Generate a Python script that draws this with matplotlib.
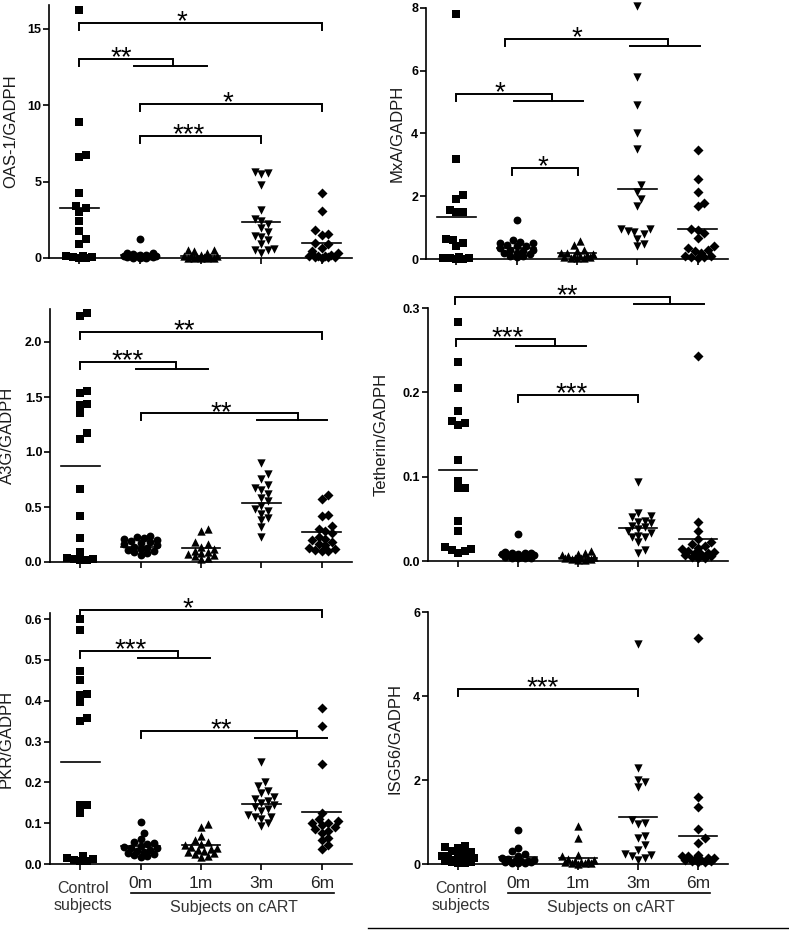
import matplotlib.pyplot as plt
import matplotlib.transforms as mtransforms
from matplotlib.lines import Line2D
import numpy as np

plt.rcParams['font.family'] = ['Liberation Sans', 'DejaVu Sans']

W, H = 789, 930

groups = ['Control\nsubjects', '0m', '1m', '3m', '6m']
cart_label = 'Subjects on cART'
markers = ['s', 'o', '^', 'v', 'D']
marker_sizes = [28, 32, 36, 36, 26]

# values, one list per group (control, 0m, 1m, 3m, 6m)
oas1 = [
    [16.2, 8.9, 6.75, 6.6, 4.25, 3.4, 3.3, 3.0, 2.4, 1.75, 1.25, 0.9, 0.15, 0.1, 0.05, 0.05, 0.02, 0.02],
    [1.25, 0.35, 0.3, 0.25, 0.2, 0.2, 0.15, 0.15, 0.1, 0.1, 0.1, 0.05, 0.05, 0.05, 0.02, 0.02, 0.02],
    [0.55, 0.5, 0.45, 0.3, 0.2, 0.15, 0.1, 0.1, 0.05, 0.05, 0.05, 0.02, 0.02, 0.02, 0.01, 0.01],
    [5.6, 5.55, 5.5, 4.8, 3.15, 2.55, 2.45, 2.2, 1.95, 1.7, 1.45, 1.4, 1.2, 0.9, 0.6, 0.55, 0.55, 0.3],
    [4.25, 3.05, 1.85, 1.6, 1.5, 1.0, 0.9, 0.65, 0.45, 0.3, 0.2, 0.15, 0.1, 0.1, 0.05, 0.05, 0.05, 0.02],
]
oas1_means = [3.3, 0.2, 0.12, 2.35, 0.98]

mxa = [
    [7.8, 3.2, 2.05, 1.9, 1.55, 1.5, 1.5, 0.65, 0.6, 0.5, 0.4, 0.05, 0.03, 0.02, 0.02, 0.01, 0.01],
    [1.23, 0.6, 0.55, 0.5, 0.5, 0.45, 0.4, 0.4, 0.35, 0.3, 0.3, 0.25, 0.2, 0.2, 0.15, 0.1, 0.1, 0.05],
    [0.56, 0.45, 0.3, 0.25, 0.2, 0.2, 0.15, 0.12, 0.1, 0.08, 0.06, 0.05, 0.04, 0.03, 0.02],
    [8.05, 5.8, 4.9, 4.0, 3.5, 2.35, 2.15, 1.9, 1.7, 0.95, 0.95, 0.9, 0.85, 0.8, 0.65, 0.47, 0.42],
    [3.48, 2.56, 2.15, 1.78, 1.68, 0.95, 0.93, 0.83, 0.67, 0.4, 0.35, 0.3, 0.25, 0.2, 0.1, 0.08, 0.05, 0.05, 0.03],
]
mxa_means = [1.34, 0.35, 0.19, 2.24, 0.96]

a3g = [
    [2.26, 2.24, 1.55, 1.54, 1.44, 1.43, 1.35, 1.17, 1.12, 0.66, 0.42, 0.22, 0.09, 0.04, 0.03, 0.03, 0.02, 0.02],
    [0.24, 0.23, 0.22, 0.21, 0.2, 0.19, 0.18, 0.17, 0.16, 0.15, 0.14, 0.13, 0.12, 0.11, 0.1, 0.09, 0.08, 0.06],
    [0.3, 0.28, 0.18, 0.16, 0.14, 0.12, 0.1, 0.09, 0.08, 0.07, 0.06, 0.05, 0.04, 0.03],
    [0.9, 0.8, 0.75, 0.7, 0.67, 0.65, 0.62, 0.58, 0.55, 0.51, 0.48, 0.46, 0.44, 0.4, 0.38, 0.32, 0.23],
    [0.61, 0.57, 0.43, 0.42, 0.33, 0.3, 0.28, 0.26, 0.23, 0.21, 0.2, 0.18, 0.16, 0.15, 0.13, 0.12, 0.11, 0.1, 0.1],
]
a3g_means = [0.875, 0.14, 0.13, 0.54, 0.27]

tetherin = [
    [0.283, 0.236, 0.205, 0.178, 0.166, 0.164, 0.161, 0.12, 0.095, 0.087, 0.086, 0.047, 0.036, 0.017, 0.014, 0.013, 0.012, 0.01],
    [0.032, 0.011, 0.01, 0.009, 0.009, 0.008, 0.008, 0.007, 0.007, 0.006, 0.006, 0.005, 0.005, 0.004, 0.004, 0.003, 0.003],
    [0.012, 0.01, 0.008, 0.007, 0.006, 0.005, 0.004, 0.004, 0.003, 0.003, 0.002, 0.002, 0.001, 0.001],
    [0.094, 0.057, 0.053, 0.052, 0.048, 0.046, 0.045, 0.042, 0.04, 0.038, 0.035, 0.033, 0.03, 0.028, 0.028, 0.022, 0.013, 0.009],
    [0.243, 0.046, 0.036, 0.026, 0.022, 0.02, 0.018, 0.016, 0.014, 0.012, 0.011, 0.01, 0.009, 0.008, 0.007, 0.006, 0.005, 0.004, 0.003],
]
tetherin_means = [0.108, 0.007, 0.004, 0.0395, 0.026]

pkr = [
    [0.6, 0.573, 0.472, 0.452, 0.417, 0.415, 0.396, 0.358, 0.35, 0.145, 0.145, 0.125, 0.02, 0.015, 0.012, 0.01, 0.008, 0.008],
    [0.103, 0.077, 0.062, 0.055, 0.052, 0.048, 0.045, 0.042, 0.04, 0.038, 0.035, 0.032, 0.03, 0.028, 0.025, 0.022, 0.02, 0.018],
    [0.097, 0.09, 0.068, 0.06, 0.055, 0.05, 0.047, 0.042, 0.04, 0.037, 0.035, 0.032, 0.03, 0.027, 0.025, 0.02, 0.018],
    [0.25, 0.2, 0.19, 0.18, 0.175, 0.165, 0.16, 0.155, 0.15, 0.145, 0.14, 0.135, 0.13, 0.12, 0.115, 0.115, 0.11, 0.1, 0.092],
    [0.382, 0.337, 0.245, 0.125, 0.11, 0.105, 0.1, 0.1, 0.095, 0.09, 0.085, 0.08, 0.076, 0.064, 0.06, 0.047, 0.037],
]
pkr_means = [0.25, 0.043, 0.046, 0.148, 0.127]

isg56 = [
    [0.42, 0.4, 0.38, 0.3, 0.28, 0.25, 0.22, 0.2, 0.18, 0.15, 0.12, 0.1, 0.08, 0.06, 0.05, 0.04, 0.03, 0.02],
    [0.8, 0.38, 0.3, 0.25, 0.2, 0.15, 0.12, 0.1, 0.08, 0.07, 0.06, 0.05, 0.04, 0.03, 0.03, 0.02],
    [0.9, 0.63, 0.22, 0.18, 0.12, 0.1, 0.08, 0.06, 0.05, 0.04, 0.03, 0.02, 0.02, 0.01],
    [5.25, 2.28, 2.0, 1.96, 1.84, 1.05, 0.97, 0.95, 0.66, 0.63, 0.46, 0.34, 0.25, 0.22, 0.2, 0.15, 0.1],
    [5.37, 1.59, 1.35, 0.83, 0.63, 0.5, 0.22, 0.2, 0.18, 0.15, 0.14, 0.12, 0.1, 0.1, 0.08, 0.06, 0.05, 0.04],
]
isg56_means = [0.17, 0.17, 0.14, 1.11, 0.67]

# significance brackets: (x_start, x_end, y, label, label_x, sub_line or None)
oas1_sig = [(0, 4, 15.4, '*', 1.7, None),
            (0, 1.55, 13.0, '**', 0.7, (0.9, 2.1)),
            (1, 4, 10.07, '*', 2.45, None),
            (1, 3, 8.0, '***', 1.8, None)]
mxa_sig = [(0.81, 3.5, 7.0, '*', 2.0, (2.87, 4.03)),
           (0, 1.58, 5.25, '*', 0.73, (0.95, 2.1)),
           (0.93, 2.02, 2.9, '*', 1.43, None)]
a3g_sig = [(0, 4, 2.09, '**', 1.72, None),
           (0, 1.58, 1.82, '***', 0.79, (0.92, 2.11)),
           (1, 3.6, 1.35, '**', 2.33, (2.92, 4.08))]
tetherin_sig = [(-0.05, 3.54, 0.313, '**', 1.82, (2.93, 4.1)),
                (-0.03, 1.61, 0.263, '***', 0.82, (0.96, 2.14)),
                (1, 3, 0.197, '***', 1.9, None)]
pkr_sig = [(0, 4, 0.623, '*', 1.78, None),
           (0, 1.62, 0.523, '***', 0.83, (0.96, 2.15)),
           (1, 3.59, 0.325, '**', 2.33, (2.9, 4.08))]
isg56_sig = [(0, 3, 4.16, '***', 1.41, None)]

# label, data, means, brackets, ylim, yticks, tick format, pixel box, ylabel offset (px)
panels = [
    ('OAS-1/GADPH', oas1, oas1_means, oas1_sig, (0, 16.55), [0, 5, 10, 15], '{:.0f}', (49, 352, 5, 258), 31),
    ('MxA/GADPH', mxa, mxa_means, mxa_sig, (0, 8), [0, 2, 4, 6, 8], '{:.0f}', (426, 728, 8, 259), 21),
    ('A3G/GADPH', a3g, a3g_means, a3g_sig, (0, 2.3), [0, 0.5, 1.0, 1.5, 2.0], '{:.1f}', (50, 352, 309, 562), 35),
    ('Tetherin/GADPH', tetherin, tetherin_means, tetherin_sig, (0, 0.3), [0, 0.1, 0.2, 0.3], '{:.1f}', (428, 728, 308, 561), 39),
    ('PKR/GADPH', pkr, pkr_means, pkr_sig, (0, 0.615), [0, 0.1, 0.2, 0.3, 0.4, 0.5, 0.6], '{:.1f}', (50, 352, 613, 864), 36),
    ('ISG56/GADPH', isg56, isg56_means, isg56_sig, (0, 6), [0, 2, 4, 6], '{:.0f}', (428, 728, 612, 864), 26),
]


def swarm(vals, ppu_y, diam, max_off=17.0):
    # dot-plot spreading: nudge sideways within a fixed width, overlap if crowded
    vals = np.asarray(vals, dtype=float)
    order = np.argsort(vals)
    placed = []
    offs = np.zeros(len(vals))
    step = diam * 0.5
    cands = [0.0]
    k = 1
    while k * step <= max_off:
        cands += [k * step, -k * step]
        k += 1
    for i in order:
        y = vals[i] * ppu_y
        best, best_d = 0.0, -1.0
        for c in cands:
            d = min([np.hypot(c - px, y - py) for px, py in placed] or [1e9])
            if d >= diam:
                best = c
                break
            if d > best_d:
                best, best_d = c, d
        offs[i] = best
        placed.append((best, y))
    return offs


fig = plt.figure(figsize=(W / 100, H / 100), dpi=100)

for n, (ylabel, data, means, sig, ylim, yticks, fmt, box, lab_off) in enumerate(panels):
    x0, x1, ytop, ybot = box
    ax = fig.add_axes([x0 / W, 1 - ybot / H, (x1 - x0) / W, (ybot - ytop) / H])
    ax.set_xlim(-0.5, 4.5)
    ax.set_ylim(*ylim)
    ppu_x = (x1 - x0) / 5.0
    ppu_y = (ybot - ytop) / (ylim[1] - ylim[0])

    for g in range(5):
        offs = swarm(data[g], ppu_y, 6.5) / ppu_x
        ax.scatter(g + offs, data[g], marker=markers[g], s=marker_sizes[g],
                   c='black', linewidths=0, zorder=3, clip_on=False)
        ax.plot([g - 0.32, g + 0.32], [means[g], means[g]], color='black', lw=1.2, zorder=4)

    drop = 7.0 / ppu_y
    for xa, xb, y, label, lx, sub in sig:
        ax.plot([xa, xa, xb, xb], [y - drop, y, y, y - drop], color='black', lw=1.4,
                clip_on=False, solid_joinstyle='miter')
        if sub is not None:
            ax.plot([sub[0], sub[1]], [y - drop, y - drop], color='black', lw=1.4, clip_on=False)
        ax.annotate(label, xy=(lx, y), xytext=(0, -4.5), textcoords='offset points',
                    ha='center', va='baseline', fontsize=20, annotation_clip=False)

    for s in ['top', 'right']:
        ax.spines[s].set_visible(False)
    for s in ['left', 'bottom']:
        ax.spines[s].set_linewidth(1.2)
    ax.set_xticks(range(5))
    ax.set_xticklabels([])
    ax.set_yticks(yticks)
    ax.set_yticklabels([fmt.format(t) for t in yticks], fontweight='bold', fontsize=9)
    ax.tick_params(length=4, width=1.2, pad=1.5)
    ax.set_ylabel(ylabel, fontsize=12, color='#1a1a1a')
    ax.yaxis.set_label_coords(-lab_off / (x1 - x0), 0.5)

    if n >= 4:
        ah = ybot - ytop
        tr = mtransforms.blended_transform_factory(ax.transData, ax.transAxes)
        ax.text(0.05, -33 / ah, groups[0], transform=tr, ha='center', va='center',
                fontsize=11.5, color='#333333', linespacing=1.2)
        for g in range(1, 5):
            ax.text(g, -19 / ah, groups[g], transform=tr, ha='center', va='center',
                    fontsize=12.5, color='#222222')
        ax.plot([0.84, 4.2], [-29 / ah, -29 / ah], transform=tr, color='black', lw=1.2, clip_on=False)
        ax.text(2.55, -43 / ah, cart_label, transform=tr, ha='center', va='center',
                fontsize=11.5, color='#333333')

fig.add_artist(Line2D([368 / W, 1.0], [1 - 928 / H, 1 - 928 / H], color='black', lw=1.0))

fig.savefig('out.png', dpi=100)
